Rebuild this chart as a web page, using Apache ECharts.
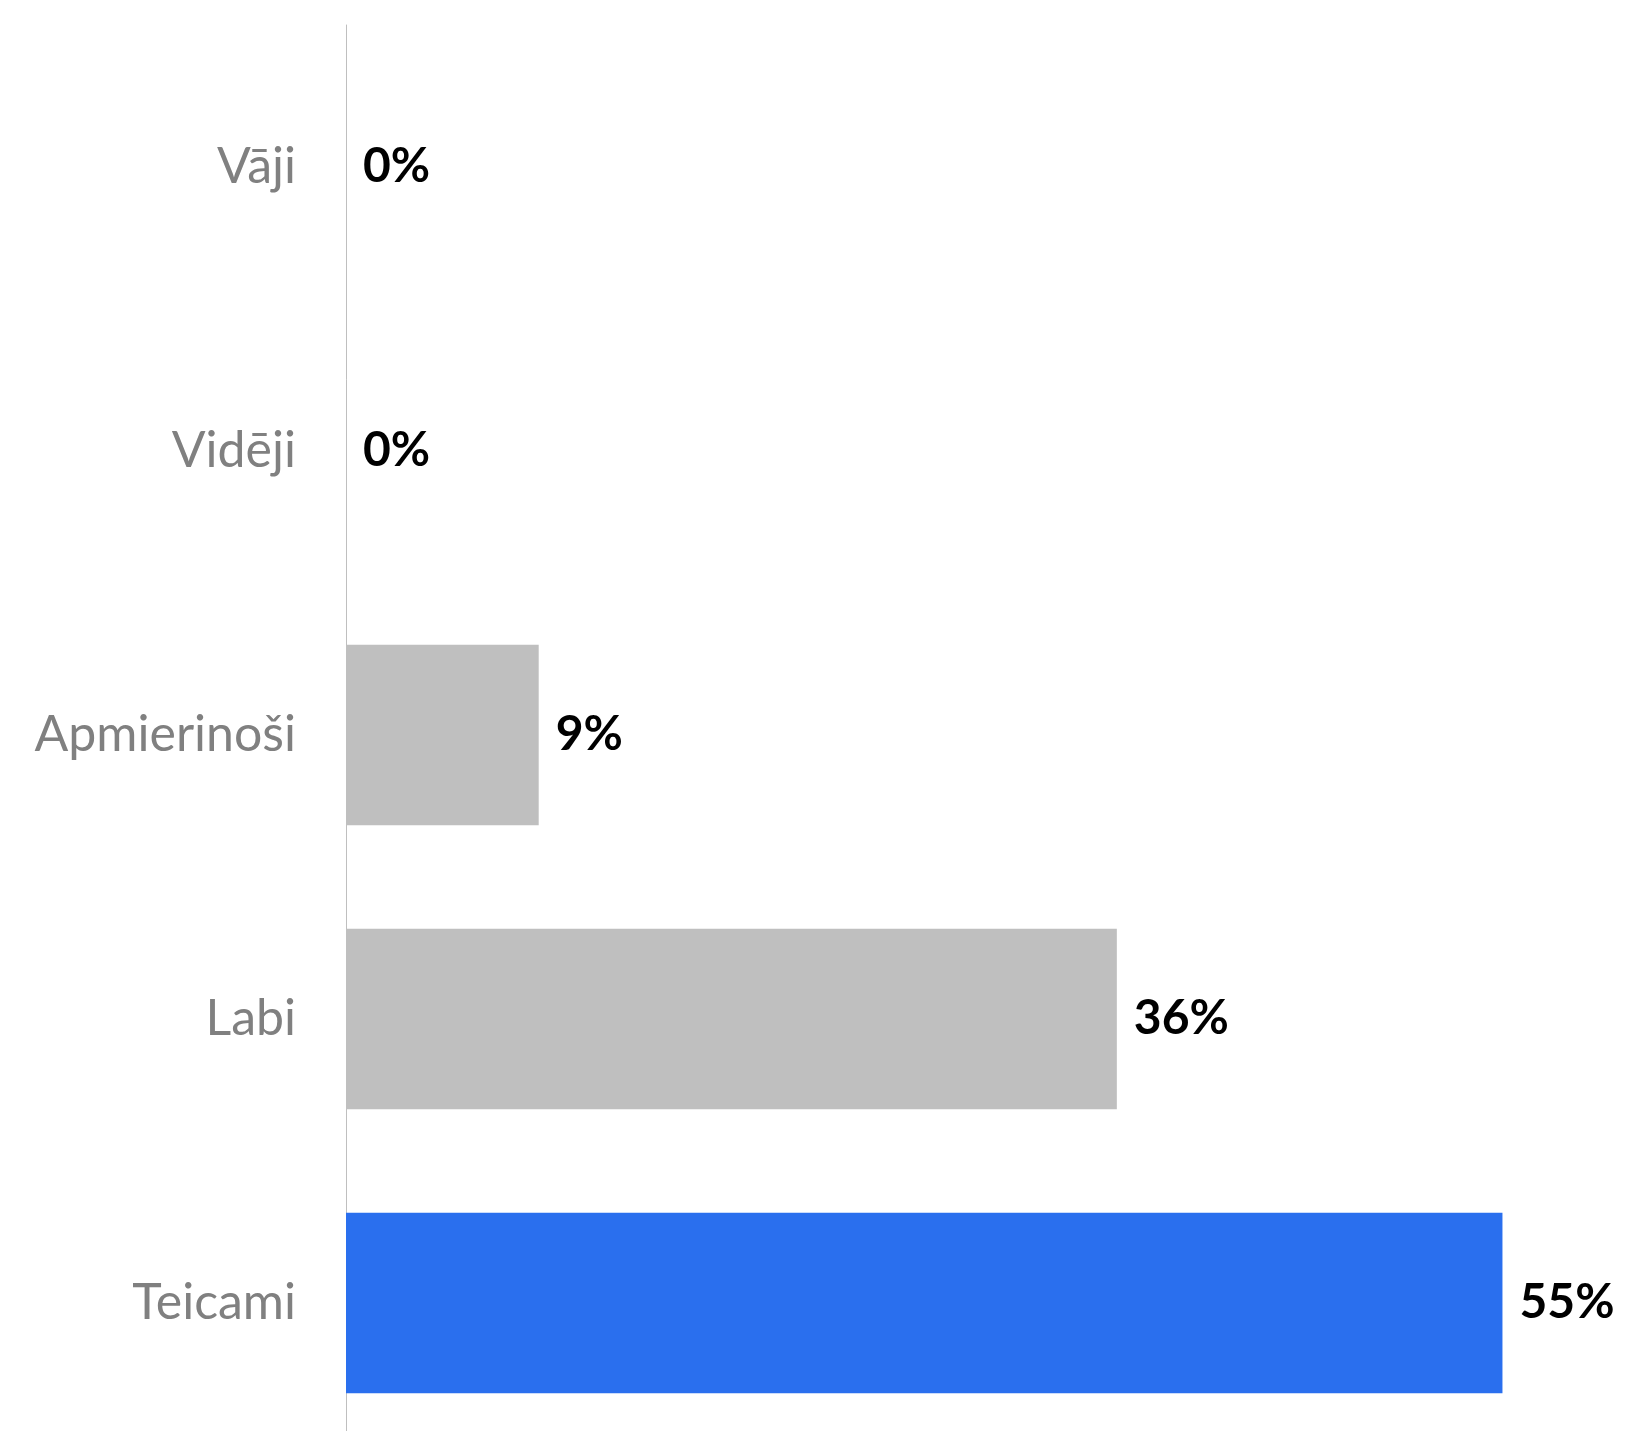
<!DOCTYPE html>
<html>
<head>
<meta charset="utf-8">
<script src="https://cdn.jsdelivr.net/npm/echarts@6/dist/echarts.min.js"></script>
<style>
html, body { margin: 0; padding: 0; background: #fff; overflow: hidden; }
#chart { width: 1629px; height: 1445px; }
</style>
</head>
<body>
<div id="chart"></div>
<script>
// categories top to bottom
var categories = ['Vāji', 'Vidēji', 'Apmierinoši', 'Labi', 'Teicami'];
// shares (bars are 1 : 4 : 6 of 11 answers)
var values = [0, 0, 9.09, 36.36, 54.55];
var valueLabels = ['0%', '0%', '9%', '36%', '55%'];
var barColors = ['#BFBFBF', '#BFBFBF', '#BFBFBF', '#BFBFBF', '#2A6FEE'];

var chart = echarts.init(document.getElementById('chart'));

var data = [];
for (var i = 0; i < values.length; i++) {
    data.push({ value: values[i], itemStyle: { color: barColors[i] } });
}

var option = {
    animation: false,
    backgroundColor: '#fff',
    // plot runs a little past the bottom edge of the page, like the original
    grid: { left: 346, right: 11, top: 25, bottom: 0 },
    xAxis: {
        type: 'value',
        min: 0,
        max: 60,
        show: false
    },
    yAxis: {
        type: 'category',
        inverse: true,
        data: categories,
        axisLine: { show: true, lineStyle: { color: '#BFBFBF', width: 1 } },
        axisTick: { show: false },
        axisLabel: {
            margin: 50,
            color: '#808080',
            fontSize: 50,
            fontFamily: 'Lato'
        }
    },
    series: [{
        type: 'bar',
        data: data,
        barCategoryGap: '36.4%',
        label: {
            show: true,
            position: 'right',
            distance: 17,
            color: '#000',
            fontSize: 48,
            fontWeight: 'bold',
            fontFamily: 'Lato',
            formatter: function (p) { return valueLabels[p.dataIndex]; }
        }
    }]
};

chart.setOption(option);
</script>
</body>
</html>
